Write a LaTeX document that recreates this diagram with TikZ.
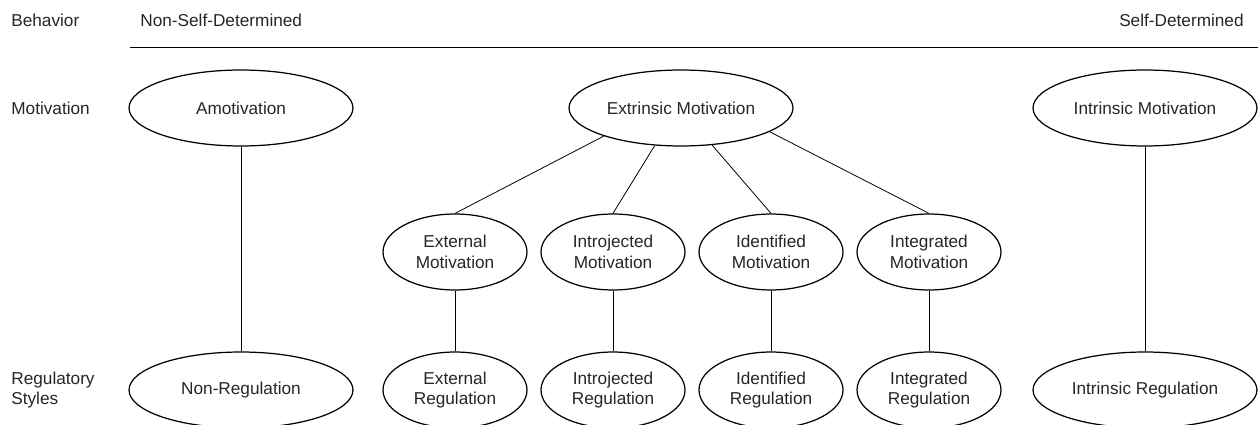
\documentclass[tikz,border=0pt]{standalone}
\usepackage{fontspec}
\setmainfont{Liberation Sans}
\usetikzlibrary{shapes.geometric,positioning}

\begin{document}
\begin{tikzpicture}[x=0.02cm,y=-0.02cm,
        every node/.style={font=\fontsize{9.8}{11.6}\selectfont},
        rowlabel/.style={inner sep=0pt,text=black!85},
        bigoval/.style={ellipse,draw,line width=0.7pt,minimum width=4.48cm,
            minimum height=1.52cm,inner sep=0pt,align=center,text=black!85},
        smalloval/.style={bigoval,minimum width=2.88cm},
        link/.style={line width=0.45pt}]
                \def\ytop{108}
                \def\ymid{252}
                \def\ybot{390}
                \def\gap{158}
                \useasboundingbox (0,0) rectangle (1258,425);
                % row labels
                \node[rowlabel,anchor=west] (behav) at (11,20) {Behavior};
                \node[rowlabel,anchor=west] (motiv) at (11,\ytop) {Motivation};
                \node[rowlabel,anchor=west,align=left] (regst) at (11,\ybot) {Regulatory\\Styles};
                \node[rowlabel,anchor=west] (nonsd) at (140,20) {Non-Self-Determined};
                \node[rowlabel,anchor=east] (selfd) at (1244,20) {Self-Determined};
                \coordinate (rulel) at (130,47);
                \coordinate (ruler) at (1258,47);
                \draw[link] (rulel) -- (ruler);
                % top row
                \node[bigoval] (amot) at (241,\ytop) {Amotivation};
                \node[bigoval] (extr) at (681,\ytop) {Extrinsic Motivation};
                \node[bigoval] (intr) at (1145,\ytop) {Intrinsic Motivation};
                % middle row
                \node[smalloval] (extm) at (455,\ymid) {External\\Motivation};
                \node[smalloval] (intjm) at (455+\gap,\ymid) {Introjected\\Motivation};
                \node[smalloval] (idm) at (455+2*\gap,\ymid) {Identified\\Motivation};
                \node[smalloval] (integm) at (455+3*\gap,\ymid) {Integrated\\Motivation};
                % bottom row
                \node[bigoval] (nonreg) at (241,\ybot) {Non-Regulation};
                \node[smalloval] (extreg) at (455,\ybot) {External\\Regulation};
                \node[smalloval] (intjreg) at (455+\gap,\ybot) {Introjected\\Regulation};
                \node[smalloval] (idreg) at (455+2*\gap,\ybot) {Identified\\Regulation};
                \node[smalloval] (integreg) at (455+3*\gap,\ybot) {Integrated\\Regulation};
                \node[bigoval] (intrreg) at (1145,\ybot) {Intrinsic Regulation};
                % connectors
                \draw[link] (amot) -- (nonreg);
                \draw[link] (intr) -- (intrreg);
                \draw[link] (extr.200) -- (extm.north);
                \draw[link] (extr.235) -- (intjm.north);
                \draw[link] (extr.310) -- (idm.north);
                \draw[link] (extr.345) -- (integm.north);
                \draw[link] (extm) -- (extreg);
                \draw[link] (intjm) -- (intjreg);
                \draw[link] (idm) -- (idreg);
                \draw[link] (integm) -- (integreg);
            \end{tikzpicture}
\end{document}
